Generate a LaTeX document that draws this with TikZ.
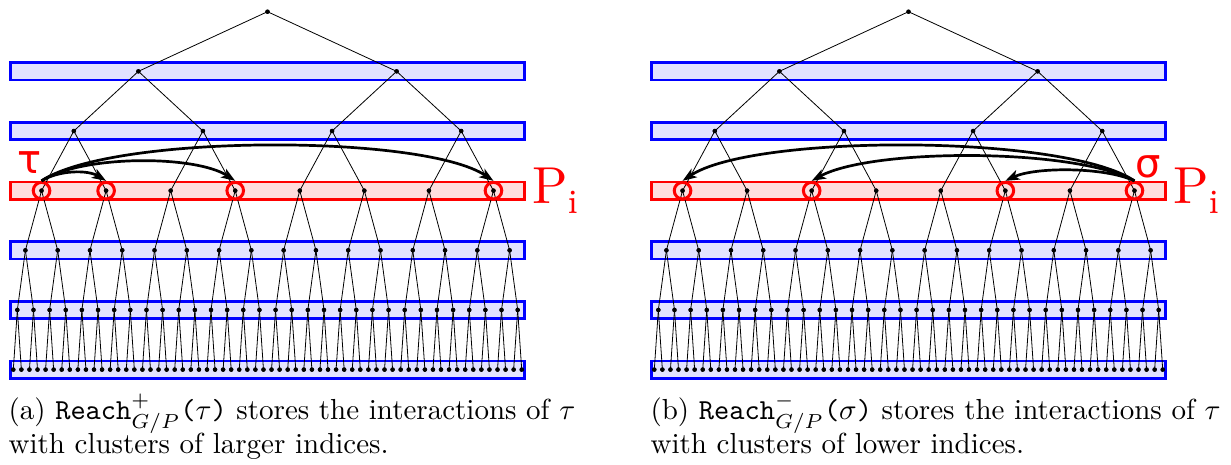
\documentclass[tikz,border=0pt]{standalone}
\usepackage{fontspec}
\newfontfamily\greekfont{DejaVu Sans}
\usetikzlibrary{arrows.meta}
\definecolor{bandblue}{RGB}{226,226,255}
\definecolor{bandred}{RGB}{255,222,222}
\tikzset{
  dot/.style={circle,fill=black,inner sep=0pt,minimum size=4.4pt},
  edge/.style={line width=0.8pt,black},
  blueband/.style={draw=blue,fill=bandblue,line width=2.8pt},
  redband/.style={draw=red,fill=bandred,line width=2.8pt},
  ring/.style={circle,draw=red,line width=3pt,minimum size=16.6pt,inner sep=0pt},
  arr/.style={line width=2.7pt,-{Stealth[length=14pt,width=10pt,inset=3.5pt]}},
  glabel/.style={text=red,font=\greekfont\fontsize{40}{48}\selectfont,inner sep=0pt,anchor=base},
  plabel/.style={text=red,font=\fontsize{10}{12}\selectfont,inner sep=0pt,anchor=base west,scale=5.2,transform shape},
  capnode/.style={font=\fontsize{10}{12}\selectfont,inner sep=0pt,anchor=base west,scale=2.9,transform shape},
}
\begin{document}
\begin{tikzpicture}[x=1pt,y=-1pt]
\useasboundingbox (0,0) rectangle (1231,464);
% bands
\foreach \off in {0,641} {
  \foreach \k in {1,...,6} {
    \pgfmathsetmacro{\yy}{11.7+59.65*\k}
    \ifnum\k=3
      \draw[redband] ({\off+10.8},{\yy-8.7}) rectangle ({\off+524.3},{\yy+8.7});
    \else
      \draw[blueband] ({\off+10.8},{\yy-8.7}) rectangle ({\off+524.3},{\yy+8.7});
    \fi
  }
}
% tree nodes
\foreach \p/\off in {a/0,b/641} {
  \foreach \k in {0,...,6} {
    \pgfmathtruncatemacro{\cnt}{2^\k-1}
    \pgfmathtruncatemacro{\w}{2^(6-\k)}
    \foreach \j in {0,...,\cnt} {
      \node[dot] (\p-\k-\j) at ({\off+13.3+8.07*(\j*\w+(\w-1)/2)},{11.7+59.65*\k}) {};
    }
  }
}
% tree edges
\foreach \p in {a,b} {
  \foreach \k in {0,...,5} {
    \pgfmathtruncatemacro{\cnt}{2^\k-1}
    \pgfmathtruncatemacro{\kk}{\k+1}
    \foreach \j in {0,...,\cnt} {
      \pgfmathtruncatemacro{\l}{2*\j}
      \pgfmathtruncatemacro{\r}{2*\j+1}
      \draw[edge] (\p-\k-\j.center) -- (\p-\kk-\l.center);
      \draw[edge] (\p-\k-\j.center) -- (\p-\kk-\r.center);
    }
  }
}
% redraw dots on top
\foreach \p/\off in {a/0,b/641} {
  \foreach \k in {0,...,6} {
    \pgfmathtruncatemacro{\cnt}{2^\k-1}
    \foreach \j in {0,...,\cnt} {
      \fill (\p-\k-\j.center) circle (2.2pt);
    }
  }
}
% rings
\node[ring] (ra0) at (a-3-0) {};
\node[ring] (ra1) at (a-3-1) {};
\node[ring] (ra3) at (a-3-3) {};
\node[ring] (ra7) at (a-3-7) {};
\node[ring] (rb0) at (b-3-0) {};
\node[ring] (rb2) at (b-3-2) {};
\node[ring] (rb5) at (b-3-5) {};
\node[ring] (rb7) at (b-3-7) {};
% arrows
\draw[arr] (ra0.north) .. controls +(18,-11) and +(-18,-11) .. (ra1.north);
\draw[arr] (ra0.north) .. controls +(40,-26) and +(-40,-26) .. (ra3.north);
\draw[arr] (ra0.north) .. controls +(70,-47) and +(-70,-47) .. (ra7.north);
\draw[arr] (rb7.north) .. controls +(-30,-14) and +(30,-14) .. (rb5.north);
\draw[arr] (rb7.north) .. controls +(-60,-33) and +(60,-33) .. (rb2.north);
\draw[arr] (rb7.north) .. controls +(-70,-47) and +(70,-47) .. (rb0.north);
% labels
\node[glabel] (tau) at (30,173) {τ};
\node[glabel] (sigma) at (1148,177) {σ};
\node[plabel] (pa) at (531,203) {P\raisebox{-2.1pt}{\fontsize{6.5}{8}\selectfont i}};
\node[plabel] (pb) at (1172,203) {P\raisebox{-2.1pt}{\fontsize{6.5}{8}\selectfont i}};
% captions
\node[capnode] (ca1) at (8,419) {(a) \texttt{Reach}$^{+}_{G/P}$\texttt{(}$\tau$\texttt{)} stores the interactions of $\tau$};
\node[capnode] (ca2) at (8,453) {with clusters of larger indices.};
\node[capnode] (cb1) at (650,419) {(b) \texttt{Reach}$^{-}_{G/P}$\texttt{(}$\sigma$\texttt{)} stores the interactions of $\tau$};
\node[capnode] (cb2) at (650,453) {with clusters of lower indices.};
\end{tikzpicture}
\end{document}
